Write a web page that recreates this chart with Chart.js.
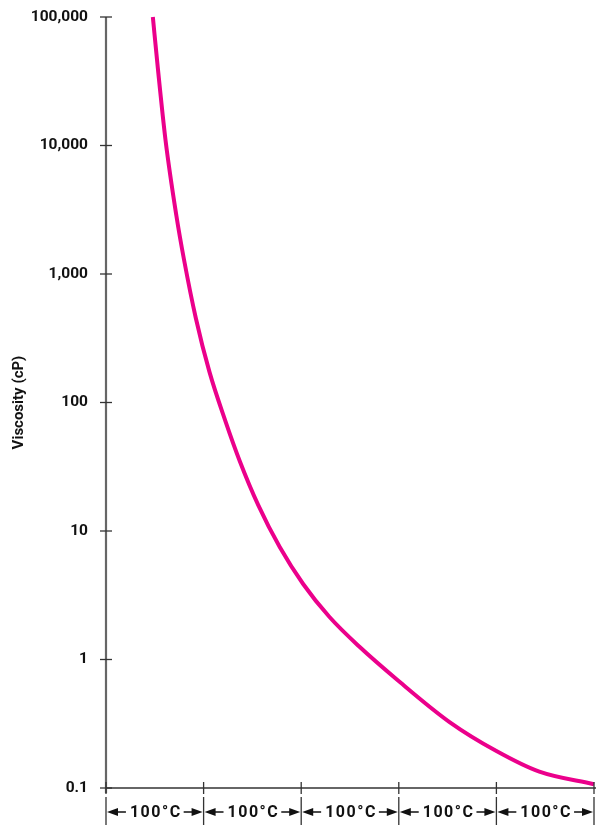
<!DOCTYPE html>
<html>
<head>
<meta charset="utf-8">
<script src="https://cdn.jsdelivr.net/npm/chart.js@4"></script>
<style>
    html, body { margin: 0; padding: 0; background: #fff; }
    #wrap { width: 597px; height: 825px; position: relative; }
</style>
</head>
<body>
<div id="wrap"><canvas id="chart"></canvas></div>
<script>
// temperature in °C, offset from an arbitrary origin (only 100 °C steps are labelled)
const temps = [48, 53, 61, 72, 80, 92, 106, 122, 137, 156, 178, 202, 229, 260, 298, 352, 400, 444, 500];
const viscosity = [100000, 40800, 11000, 2880, 1285, 455, 173, 73, 35.1, 15.9, 7.5, 3.87, 2.14, 1.25, 0.699, 0.326, 0.194, 0.134, 0.107];

const yTicks = [0.1, 1, 10, 100, 1000, 10000, 100000];
const xSteps = [0, 100, 200, 300, 400, 500];
const stepLabel = "100°C";

const FONT = "Roboto, 'DejaVu Sans Condensed', Arial, sans-serif";
const C_CURVE = "#eb008b";

// axes, tick marks and the dimension arrows under the x axis
const axisDecor = {
    id: "axisDecor",
    afterDraw(chart) {
        const ctx = chart.ctx;
        const xs = chart.scales.x, ys = chart.scales.y;
        const area = chart.chartArea;
        const y0 = ys.getPixelForValue(0.1);
        ctx.save();

        // y axis
        ctx.strokeStyle = "#666";
        ctx.lineWidth = 2.2;
        ctx.beginPath();
        ctx.moveTo(area.left, ys.getPixelForValue(100000));
        ctx.lineTo(area.left, y0 + 5);
        ctx.stroke();

        ctx.strokeStyle = "#333";
        ctx.lineWidth = 1.3;
        yTicks.forEach(v => {
            const p = ys.getPixelForValue(v);
            ctx.beginPath();
            ctx.moveTo(area.left - 6, p);
            ctx.lineTo(area.left + 6, p);
            ctx.stroke();
        });

        // x axis
        ctx.beginPath();
        ctx.moveTo(area.left, y0);
        ctx.lineTo(xs.getPixelForValue(500) + 2, y0);
        ctx.stroke();
        xSteps.forEach(v => {
            const p = xs.getPixelForValue(v);
            ctx.beginPath();
            ctx.moveTo(p, y0 - 6);
            ctx.lineTo(p, y0 + 6);
            ctx.moveTo(p, y0 + 9);
            ctx.lineTo(p, chart.height);
            ctx.stroke();
        });

        // dimension arrows
        const ty = y0 + 24;
        ctx.font = "bold 16px " + FONT;
        ctx.letterSpacing = "1.5px";
        ctx.fillStyle = "#111";
        ctx.textAlign = "center";
        ctx.textBaseline = "middle";
        for (let i = 0; i < xSteps.length - 1; i++) {
            const a = xs.getPixelForValue(xSteps[i]) + 1;
            const b = xs.getPixelForValue(xSteps[i + 1]) - 1;
            const mid = (a + b) / 2;
            const w = ctx.measureText(stepLabel).width;
            ctx.fillText(stepLabel, mid + 1, ty + 1);
            ctx.strokeStyle = "#111";
            ctx.lineWidth = 1.6;
            ctx.beginPath();
            ctx.moveTo(a + 6, ty);
            ctx.lineTo(mid - w / 2 - 3, ty);
            ctx.moveTo(mid + w / 2 + 3, ty);
            ctx.lineTo(b - 6, ty);
            ctx.stroke();
            ctx.beginPath();
            ctx.moveTo(a, ty);
            ctx.lineTo(a + 11, ty - 4);
            ctx.lineTo(a + 11, ty + 4);
            ctx.closePath();
            ctx.moveTo(b, ty);
            ctx.lineTo(b - 11, ty - 4);
            ctx.lineTo(b - 11, ty + 4);
            ctx.closePath();
            ctx.fill();
        }
        ctx.restore();
    }
};

new Chart(document.getElementById("chart").getContext("2d"), {
    type: "line",
    data: {
        datasets: [{
            data: temps.map((t, i) => ({ x: t, y: viscosity[i] })),
            borderColor: C_CURVE,
            borderWidth: 4,
            pointRadius: 0,
            cubicInterpolationMode: "monotone",
            clip: false,
            fill: false
        }]
    },
    options: {
        responsive: true,
        maintainAspectRatio: false,
        animation: false,
        layout: { padding: { top: 17, right: 3, left: 0, bottom: 0 } },
        plugins: { legend: { display: false }, tooltip: { enabled: false } },
        scales: {
            x: {
                type: "linear",
                min: 0,
                max: 500,
                grid: { display: false, drawTicks: false },
                border: { display: false },
                ticks: { display: false },
                afterFit: s => { s.height = 37; }
            },
            y: {
                type: "logarithmic",
                min: 0.1,
                max: 100000,
                grid: { display: false, drawTicks: false },
                border: { display: false },
                afterBuildTicks: s => { s.ticks = yTicks.map(v => ({ value: v })); },
                afterFit: s => { s.width = 106; s.paddingTop = 0; s.paddingBottom = 0; },
                ticks: {
                    padding: 18,
                    color: "#111",
                    font: { family: FONT, size: 15.5, weight: "bold" },
                    callback: v => v < 1 ? String(v) : v.toLocaleString("en-US")
                },
                title: {
                    display: true,
                    text: "Viscosity (cP)",
                    color: "#111",
                    font: { family: FONT, size: 15, weight: "bold" },
                    padding: { top: 10, bottom: 0 }
                }
            }
        }
    },
    plugins: [axisDecor]
});
</script>
</body>
</html>
